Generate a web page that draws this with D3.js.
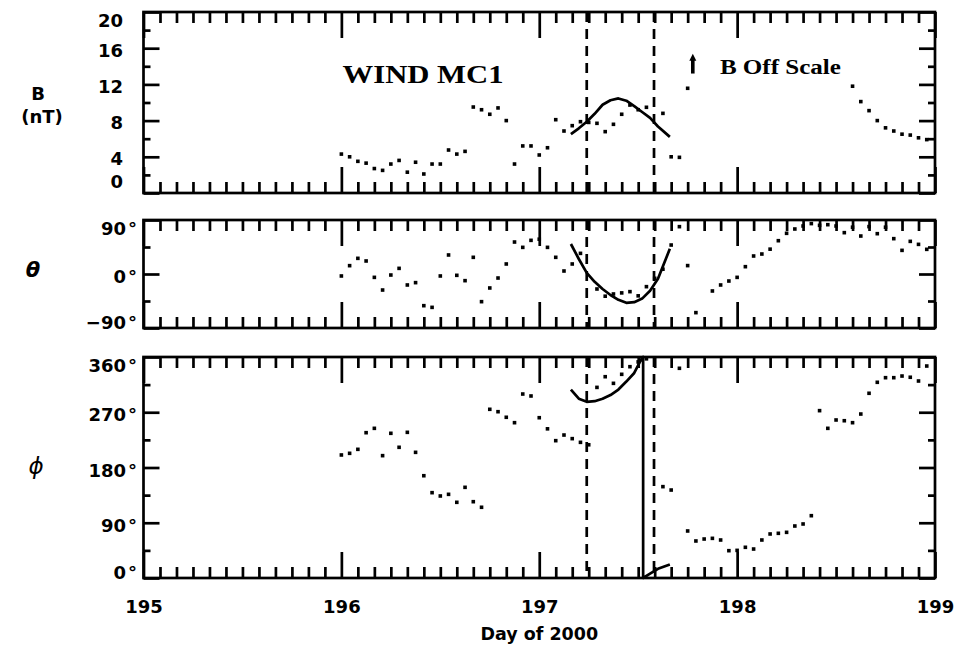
<!DOCTYPE html>
<html><head><meta charset="utf-8">
<script src="https://cdn.jsdelivr.net/npm/d3@7"></script>
<style>body{margin:0;background:#fff}svg{display:block}</style>
</head><body><svg id="c" width="960" height="655"></svg>
<script>
// ---------- data ----------
const startDay = 196;            // first hourly sample (day of 2000)
const samplesPerDay = 24;
const bField = [4.3,4.0,3.5,3.3,2.7,2.5,3.2,3.6,2.3,3.4,2.1,3.2,3.2,4.75,4.3,4.6,9.5,9.2,8.7,9.4,8.0,3.2,5.2,5.2,
  4.2,5.0,8.1,6.85,7.44,7.88,7.8,7.7,6.78,7.59,8.7,9.72,9.2,9.47,null,8.8,4.0,3.94,11.57,
  null,null,null,null,null,null,null,null,null,null,null,null,null,null,null,null,null,null,null,
  11.8,10.1,9.1,8.0,7.2,6.85,6.5,6.4,6.1,5.9];
const theta = [-3.3,13.9,26.1,21.7,-5.6,-26.7,-1.7,9.4,-18.3,-14.4,-52.8,-55.6,-3.3,31.7,-2.2,-11.1,27.8,-46.1,-23.3,-6.7,16.7,53.3,44.4,56.1,
  58,44.4,27.8,5,16.7,34.4,null,-25,-37,-33.3,-31.5,-29.4,-36.4,-21.1,-7.2,8,48.3,78.9,14,-64.4,null,-28.3,-18.3,-11.7,
  -5.6,12.2,30,33.3,41.4,55.5,67.8,75,80,84,81.1,82.2,80,68.9,78,63.3,79,67.2,78,58.9,39.4,54.4,49.4,41.1];
const phi = [200.4,203.1,209.6,236.7,243.8,199.3,235.7,212.9,237.3,204.7,166.6,139,133.6,136.3,123.3,147.7,124.3,115.2,274.8,270.9,261.8,253,299.7,296.5,
  261.1,243,223.7,232.9,227,221,217,310.5,327.9,317.1,331.8,344.2,352,357,null,148.8,143.3,341.6,76.6,60.3,63.5,64.6,61.9,44.5,
  45,50,47.2,61.9,71.7,72.8,74.4,84.7,88,101.5,272.6,243.8,257.4,256.2,253,267.1,300.9,318.8,326.3,326.3,329,327,320.9,345.3];

// flux-rope model fit (phi unwrapped: values above 360 wrap to 0)
const modelDays  = [197.16,197.20,197.24,197.28,197.32,197.36,197.40,197.44,197.48,197.52,197.56,197.60,197.66];
const modelB     = [6.5,7.15,7.88,8.75,9.75,10.25,10.45,10.2,9.6,8.95,8.3,7.35,6.2];
const modelTheta = [50,25,2,-13,-25,-35,-43,-48,-47,-41,-28,-8,42];
const modelPhi   = [307,292,287,288,292,298,307,320,334,359,367,375,382];

const boundaryDays = [197.24, 197.58];
const xTicks = [195,196,197,198,199];
const bTicks = [0,4,8,12,16,20];
const thetaTicks = [-90,0,90];
const phiTicks = [0,90,180,270,360];
const titleText = "WIND MC1";
const noteText = "B Off Scale";
const noteDay = 197.776;
const xTitle = "Day of 2000";

// ---------- drawing ----------
const svg = d3.select('#c');
const x = d3.scaleLinear().domain([195,199]).range([143.5,935]);
const dayOf = i => startDay + i / samplesPerDay;
const minorX = d3.range(0,49).map(k => 195 + k/12).filter(d => Math.abs(d - Math.round(d)) > 1e-6);
const FONT = "'DejaVu Sans', Verdana, sans-serif";

const panels = [
  {values:bField, model:modelB, domain:[0,20], top:12, bottom:193, labels:bTicks, step:2, deg:false, mb:12, wrap:false},
  {values:theta, model:modelTheta, domain:[-90,90], top:220, bottom:328, labels:thetaTicks, step:45, deg:true, mb:6, wrap:false},
  {values:phi, model:modelPhi, domain:[0,360], top:357, bottom:578, labels:phiTicks, step:45, deg:true, mb:6, wrap:true}
];

function styleTicks(sel){
  sel.select('.domain').remove();
  sel.selectAll('.tick line').attr('stroke','#000').attr('stroke-width',2.7);
}

panels.forEach((p, pi) => {
  const y = d3.scaleLinear().domain(p.domain).range([p.bottom, p.top]);
  p.y = y;
  const g = svg.append('g');

  // boundary dashed lines
  boundaryDays.forEach(d => {
    g.append('line').attr('x1', x(d)).attr('x2', x(d)).attr('y1', p.top).attr('y2', p.bottom)
      .attr('stroke','#000').attr('stroke-width',2.7).attr('stroke-dasharray','10,7');
  });

  // model curve
  let pts = modelDays.map((d,i) => ({d, v:p.model[i]}));
  if (p.wrap) {
    const out = [{d:pts[0].d, v:pts[0].v % 360}];
    for (let i=1;i<pts.length;i++){
      const a = pts[i-1], b = pts[i];
      const ka = Math.floor(a.v/360), kb = Math.floor(b.v/360);
      if (ka !== kb) {
        const c = 360*Math.max(ka,kb);
        const t = (c - a.v)/(b.v - a.v);
        const dc = a.d + t*(b.d - a.d);
        out.push({d:dc, v:360}); out.push({d:dc, v:0});
      }
      out.push({d:b.d, v:((b.v % 360)+360)%360});
    }
    pts = out;
  }
  g.append('path').datum(pts)
    .attr('d', d3.line().x(q => x(q.d)).y(q => y(q.v)))
    .attr('fill','none').attr('stroke','#000').attr('stroke-width',2.7).attr('stroke-linejoin','round');

  // data points
  g.selectAll('rect.pt').data(p.values.map((v,i) => ({d:dayOf(i), v})).filter(q => q.v !== null))
    .join('rect').attr('class','pt')
    .attr('x', q => x(q.d) - 1.8).attr('y', q => y(q.v) - 1.8)
    .attr('width',3.6).attr('height',3.6).attr('fill','#000');

  // x ticks (top & bottom, minor and major)
  g.append('g').attr('transform',`translate(0,${p.top})`)
    .call(d3.axisTop(x).tickValues(minorX).tickSize(-11).tickFormat('')).call(styleTicks);
  g.append('g').attr('transform',`translate(0,${p.top})`)
    .call(d3.axisTop(x).tickValues(xTicks).tickSize(-26).tickFormat('')).call(styleTicks);
  g.append('g').attr('transform',`translate(0,${p.bottom})`)
    .call(d3.axisBottom(x).tickValues(minorX).tickSize(-11).tickFormat('')).call(styleTicks);
  g.append('g').attr('transform',`translate(0,${p.bottom})`)
    .call(d3.axisBottom(x).tickValues(xTicks).tickSize(-26).tickFormat('')).call(styleTicks);

  // y ticks
  const allY = d3.range(p.domain[0], p.domain[1] + p.step/2, p.step);
  const minorY = allY.filter(v => !p.labels.includes(v));
  [[d3.axisLeft, x.range()[0]],[d3.axisRight, x.range()[1]]].forEach(([gen, xp]) => {
    g.append('g').attr('transform',`translate(${xp},0)`)
      .call(gen(y).tickValues(minorY).tickSize(-7).tickFormat('')).call(styleTicks);
    g.append('g').attr('transform',`translate(${xp},0)`)
      .call(gen(y).tickValues(p.labels).tickSize(-16).tickFormat('')).call(styleTicks);
  });

  // frame
  g.append('rect').attr('x', x.range()[0]).attr('y', p.top)
    .attr('width', x.range()[1]-x.range()[0]).attr('height', p.bottom-p.top)
    .attr('fill','none').attr('stroke','#000').attr('stroke-width',2.7);

  // y tick labels
  p.labels.forEach(v => {
    const cy = Math.max(p.top + 8, Math.min(p.bottom - p.mb, y(v) + 2));
    const t = svg.append('text').attr('y', cy).attr('dominant-baseline','central')
      .attr('text-anchor','end').attr('font-family',FONT).attr('font-weight','bold').attr('font-size',18);
    if (p.deg) {
      t.attr('x', 137);
      t.append('tspan').text((v<0?'−':'') + Math.abs(v));
      t.append('tspan').attr('dx',2).text('°');
    } else {
      t.attr('x', 123).text(v);
    }
  });
});

// x tick labels under the last panel
const last = panels[2];
svg.append('g').attr('transform',`translate(0,${last.bottom})`)
  .call(d3.axisBottom(x).tickValues(xTicks).tickSize(0).tickPadding(22).tickFormat(d3.format('d')))
  .call(s => s.select('.domain').remove())
  .call(s => s.selectAll('text').attr('font-family',FONT).attr('font-weight','bold').attr('font-size',18).attr('fill','#000'));

svg.append('text').attr('x', x(197)).attr('y', 640).attr('text-anchor','middle')
  .attr('font-family',FONT).attr('font-weight','bold').attr('font-size',17.5).text(xTitle);

// axis titles
const yB = panels[0].y;
svg.append('text').attr('x',38).attr('y',yB(11.0)).attr('dominant-baseline','central').attr('text-anchor','middle')
  .attr('font-family',FONT).attr('font-weight','bold').attr('font-size',18).text('B');
svg.append('text').attr('x',42).attr('y',yB(8.4)).attr('dominant-baseline','central').attr('text-anchor','middle')
  .attr('font-family',FONT).attr('font-weight','bold').attr('font-size',18).text('(nT)');
svg.append('text').attr('x',33).attr('y',panels[1].y(7)).attr('dominant-baseline','central').attr('text-anchor','middle')
  .attr('font-family',FONT).attr('font-style','italic').attr('font-weight','bold').attr('font-size',21).text('θ');
svg.append('text').attr('x',36).attr('y',panels[2].y(183)).attr('dominant-baseline','central').attr('text-anchor','middle')
  .attr('font-family',FONT).attr('font-style','italic').attr('font-size',23).text('ϕ');

// annotations
svg.append('text').attr('x', x(196.006)).attr('y', yB(12.2))
  .attr('font-family',"'Liberation Serif','Times New Roman',serif").attr('font-weight','bold').attr('font-size',25)
  .attr('textLength',161).attr('lengthAdjust','spacingAndGlyphs').text(titleText);
svg.append('text').attr('x', x(197.913)).attr('y', yB(13.2))
  .attr('font-family',"'Liberation Serif','Times New Roman',serif").attr('font-weight','bold').attr('font-size',20)
  .attr('textLength',121).attr('lengthAdjust','spacingAndGlyphs').text(noteText);
// up arrow
const ax = x(noteDay), aTop = yB(15.4), aBot = yB(13.2);
svg.append('line').attr('x1',ax).attr('x2',ax).attr('y1',aBot).attr('y2',aTop+6)
  .attr('stroke','#000').attr('stroke-width',3.6);
svg.append('path').attr('d',`M${ax-3.5},${aTop+7}L${ax},${aTop}L${ax+3.5},${aTop+7}Z`).attr('fill','#000');
</script>
</body></html>
